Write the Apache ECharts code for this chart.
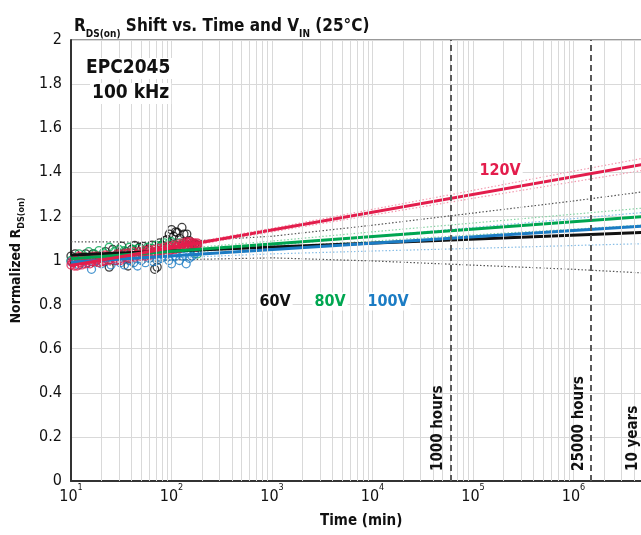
<!DOCTYPE html>
<html>
<head>
<meta charset="utf-8">
<script src="https://cdn.jsdelivr.net/npm/echarts@6/dist/echarts.min.js"></script>
<style>
  html, body { margin: 0; padding: 0; background: #fff; }
  #chart { width: 641px; height: 535px; }
</style>
</head>
<body>
<div id="chart"></div>
<script>
// Normalized RDS(on) measurements, [time in minutes, normalized value]
const points60V = [[10,1.02],[11,1.03],[12.5,1.01],[14,1.03],[16.5,1.03],[19,1.02],[22,1.04],[24,0.97],[26,1.05],[29,1.03],[32,1.065],[35,1.04],[37,0.975],[40,1.05],[43,1.068],[48,1.06],[52,1.064],[58,1.05],[64,1.07],[68,0.96],[72,0.97],[76,1.08],[80,1.07],[86,1.09],[90,1.095],[95,1.12],[100,1.14],[105,1.11],[110,1.13],[114,1.127],[120,1.10],[127,1.15],[133,1.12],[142,1.12],[150,1.09],[160,1.08],[170,1.075],[180,1.07]];
const points80V = [[10,1.0],[11,1.01],[12,1.03],[13.5,1.02],[15,1.04],[17,1.03],[19,1.045],[21,1.035],[24,1.06],[27,1.04],[30,1.05],[34,1.045],[38,1.06],[42,1.05],[47,1.055],[52,1.04],[58,1.06],[64,1.055],[70,1.07],[77,1.065],[85,1.08],[93,1.075],[100,1.085],[110,1.07],[120,1.08],[130,1.075],[140,1.06],[150,1.065],[160,1.07],[170,1.04],[180,1.03]];
const points100V = [[10,0.995],[11,1.0],[12,0.98],[13,1.01],[14.5,0.99],[16,0.96],[18,1.0],[20,0.985],[22,1.01],[25,0.98],[28,1.0],[31,0.99],[34,0.98],[38,1.0],[42,0.99],[46,0.975],[50,1.0],[55,0.99],[60,1.01],[66,0.995],[72,1.0],[79,1.01],[86,1.02],[94,1.0],[100,0.985],[110,1.02],[120,1.0],[130,1.02],[140,0.985],[150,1.01],[160,1.02],[170,1.03],[180,1.04]];
const points120V = [[10,0.98],[10.2,0.995],[10.5,0.99],[10.8,0.975],[11,1.0],[11.5,0.975],[11.8,1.005],[12,1.02],[12.5,0.99],[12.8,0.98],[13,1.0],[13.5,1.015],[14,0.985],[14.5,1.0],[15,1.01],[15.5,0.985],[16,0.995],[16.5,1.02],[17,1.005],[17.5,0.995],[18,1.02],[18.5,1.005],[19,0.99],[20,1.01],[20.5,0.995],[21.5,1.0],[22,1.025],[23,1.02],[23.5,1.0],[24.5,1.005],[25,1.02],[26,1.015],[27,1.01],[28,1.0],[29,1.03],[30,1.025],[31,1.0],[32,1.01],[33,1.03],[34,1.02],[35,1.015],[36,1.03],[37,1.035],[38,1.01],[39,1.02],[40,1.025],[41.5,1.04],[43,1.015],[44.5,1.025],[46,1.03],[47.5,1.04],[49,1.02],[50.5,1.03],[52,1.035],[53.5,1.045],[55,1.02],[56.5,1.03],[58,1.04],[60,1.05],[62,1.025],[64,1.035],[66,1.04],[68,1.05],[70,1.03],[72,1.04],[74,1.045],[76,1.055],[78,1.035],[80,1.045],[82,1.05],[84,1.06],[87,1.04],[89,1.05],[92,1.055],[94,1.065],[97,1.045],[99,1.05],[102,1.06],[105,1.07],[108,1.05],[111,1.06],[114,1.065],[117,1.075],[120,1.055],[123,1.06],[126,1.07],[129,1.08],[132,1.06],[135,1.065],[138,1.075],[141,1.085],[144,1.065],[147,1.07],[150,1.08],[154,1.085],[157,1.07],[161,1.065],[164,1.075],[168,1.08],[172,1.07],[176,1.06],[180,1.08],[184,1.075],[186,1.065]];

// Log-linear fits, end points [time, value]
const fit60V = [[10,1.025],[1e7,1.133]];
const fit80V = [[10,1.008],[1e7,1.210]];
const fit100V = [[10,0.992],[1e7,1.165]];
const fit120V = [[10,0.977],[1e7,1.461]];

// Confidence bounds sampled once per decade
const bandTimes = [10,100,1000,1e4,1e5,1e6,1e7];
const upper60V = [1.085,1.083,1.110,1.160,1.215,1.270,1.330];
const lower60V = [0.965,1.003,1.012,0.998,0.979,0.960,0.936];
const upper80V = [1.020,1.050,1.088,1.130,1.170,1.210,1.250];
const lower80V = [0.996,1.034,1.062,1.088,1.116,1.142,1.170];
const upper100V = [1.012,1.030,1.068,1.110,1.150,1.190,1.230];
const lower100V = [0.970,1.012,1.030,1.043,1.055,1.068,1.080];
const upper120V = [0.990,1.064,1.146,1.232,1.318,1.405,1.490];
const lower120V = [0.964,1.052,1.130,1.206,1.282,1.357,1.432];

// Lifetime markers (minutes)
const lifeMarks = [['1000 hours', 60000], ['25000 hours', 1.5e6], ['10 years', 5.256e6]];

// Series labels [text, time, value]
const seriesTags = [['60V',1072,0.814],['80V',3776,0.814],['100V',14260,0.814],['120V',186000,1.405]];

const yTicks = [0,0.2,0.4,0.6,0.8,1,1.2,1.4,1.6,1.8,2];

const FONT = "'DejaVu Sans Condensed','Liberation Sans Narrow',sans-serif";
const C60 = '#111111', C80 = '#00a651', C100 = '#1b7cc4', C120 = '#e31d4c';
const B60 = '#555555', B80 = '#86d3a4', B100 = '#86bde6', B120 = '#f29bb0';
const tagColors = { '60V': C60, '80V': C80, '100V': C100, '120V': C120 };

const zip = (xs, ys) => xs.map((x, i) => [x, ys[i]]);

// Minor log grid positions (2..9 in each decade)
const minorGrid = [];
for (let d = 10; d < 1e7; d *= 10) {
  for (let m = 2; m <= 9; m++) minorGrid.push({ xAxis: d * m });
}

function scatter(name, data, color) {
  return {
    name, type: 'scatter', data, symbol: 'circle', symbolSize: 8,
    itemStyle: { color: 'rgba(255,255,255,0)', borderColor: color, borderWidth: 1.3 },
    z: 3, silent: true
  };
}
function fitLine(data, color) {
  return {
    type: 'line', data, symbol: 'none', z: 4, silent: true,
    lineStyle: { color, width: 3 }
  };
}
function band(vals, color) {
  return {
    type: 'line', data: zip(bandTimes, vals), symbol: 'none', z: 2, silent: true,
    lineStyle: { color, width: 1.2, type: [1.5, 2] }
  };
}

const chart = echarts.init(document.getElementById('chart'), null, { renderer: 'canvas' });

chart.setOption({
  animation: false,
  backgroundColor: '#fff',
  title: {
    text: '{b|R}{s|DS(on)}{b| Shift vs. Time and V}{s|IN}{b| (25°C)}',
    left: 69, top: 6,
    textStyle: {
      rich: {
        b: { fontFamily: FONT, fontWeight: 'bold', fontSize: 17, color: '#111', lineHeight: 24, verticalAlign: 'bottom' },
        s: { fontFamily: FONT, fontWeight: 'bold', fontSize: 10, color: '#111', lineHeight: 24, verticalAlign: 'bottom', padding: [0, 0, -4, 0] }
      }
    }
  },
  grid: {
    left: 71, top: 40, height: 441, width: 603,
    outerBoundsMode: 'none', containLabel: false,
    show: true, borderColor: '#333', borderWidth: 1
  },
  xAxis: {
    type: 'log', logBase: 10, min: 10, max: 1e7,
    axisLine: { show: true, onZero: false, lineStyle: { color: '#333', width: 2 } },
    axisTick: { show: false },
    splitLine: { show: true, lineStyle: { color: '#d9d9d9', width: 1 } },
    axisLabel: {
      margin: 8,
      formatter: v => '{b|10}{p|' + Math.round(Math.log10(v)) + '}',
      rich: {
        b: { fontFamily: FONT, fontSize: 16, color: '#111', verticalAlign: 'top', lineHeight: 20 },
        p: { fontFamily: FONT, fontSize: 9, color: '#111', verticalAlign: 'top', lineHeight: 20, padding: [-6, 0, 0, 0] }
      }
    }
  },
  yAxis: {
    type: 'value', min: 0, max: 2, interval: 0.2,
    axisLine: { show: true, lineStyle: { color: '#333', width: 2 } },
    axisTick: { show: false },
    splitLine: { show: true, lineStyle: { color: '#d9d9d9', width: 1 } },
    axisLabel: {
      fontFamily: FONT, fontSize: 16, color: '#111', margin: 9,
      formatter: v => { const t = yTicks.find(k => Math.abs(k - v) < 1e-9); return t === undefined ? '' : String(t); }
    },
    name: '{b|Normalized R}{s|DS(on)}',
    nameLocation: 'middle', nameGap: 48, nameRotate: 90,
    nameTextStyle: {
      rich: {
        b: { fontFamily: FONT, fontWeight: 'bold', fontSize: 14, color: '#111', lineHeight: 20, verticalAlign: 'bottom' },
        s: { fontFamily: FONT, fontWeight: 'bold', fontSize: 9, color: '#111', lineHeight: 20, verticalAlign: 'bottom', padding: [0, 0, -3, 0] }
      }
    }
  },
  graphic: [
    { type: 'text', left: 84, top: 58, z: 100, style: { text: 'EPC2045', fontFamily: FONT, fontWeight: 'bold', fontSize: 19, fill: '#111', backgroundColor: '#fff', padding: [1, 2] } },
    { type: 'text', left: 90, top: 83, z: 100, style: { text: '100 kHz', fontFamily: FONT, fontWeight: 'bold', fontSize: 19, fill: '#111', backgroundColor: '#fff', padding: [1, 2] } },
    { type: 'text', left: 320, top: 514, z: 100, style: { text: 'Time (min)', fontFamily: FONT, fontWeight: 'bold', fontSize: 15, fill: '#111' } }
  ],
  series: [
    {
      type: 'line', data: [], z: 1, silent: true,
      markLine: {
        silent: true, symbol: ['none', 'none'], label: { show: false },
        lineStyle: { color: '#d9d9d9', width: 1, type: 'solid' },
        data: minorGrid
      }
    },
    {
      type: 'line', data: [], z: 5, silent: true,
      markLine: {
        silent: true, symbol: ['none', 'none'],
        lineStyle: { color: '#5a5a5a', width: 2, type: [6, 4] },
        label: {
          show: true, position: 'insideStartTop', formatter: p => p.name,
          fontFamily: FONT, fontWeight: 'bold', fontSize: 15, color: '#111', distance: [10, 5]
        },
        data: lifeMarks.map(([n, t]) => ({ name: n, xAxis: t }))
      }
    },
    band(upper60V, B60), band(lower60V, B60),
    band(upper80V, B80), band(lower80V, B80),
    band(upper100V, B100), band(lower100V, B100),
    band(upper120V, B120), band(lower120V, B120),
    scatter('60V', points60V, C60),
    scatter('80V', points80V, C80),
    scatter('100V', points100V, C100),
    scatter('120V', points120V, C120),
    fitLine(fit60V, C60),
    fitLine(fit80V, C80),
    fitLine(fit100V, C100),
    fitLine(fit120V, C120),
    {
      type: 'scatter', symbolSize: 1, z: 6, silent: true,
      data: seriesTags.map(([n, t, v]) => ({
        name: n, value: [t, v],
        label: { color: tagColors[n] }
      })),
      label: {
        show: true, position: 'inside', formatter: p => p.name, opacity: 1,
        fontFamily: FONT, fontWeight: 'bold', fontSize: 16,
        backgroundColor: '#fff', padding: [1, 2]
      },
      itemStyle: { color: '#fff', opacity: 1 }
    }
  ]
});
</script>
</body>
</html>
